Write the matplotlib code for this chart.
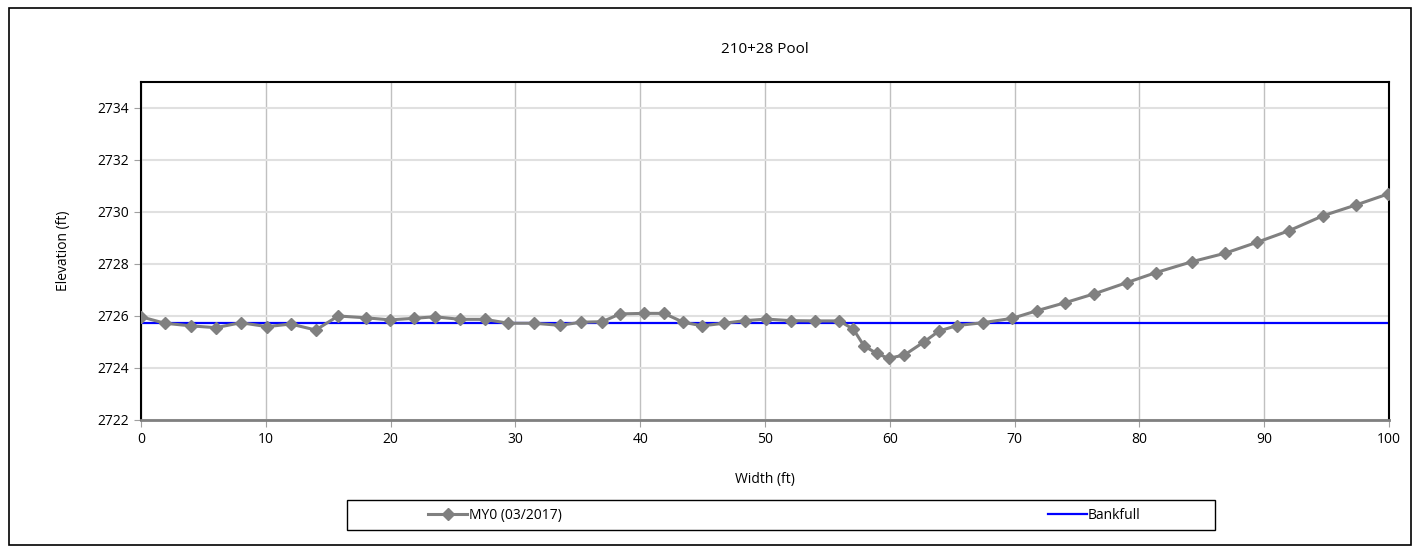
import matplotlib
matplotlib.use("Agg")
import matplotlib.pyplot as plt
from matplotlib.patches import Rectangle

plt.rcParams['font.family'] = ['Open Sans', 'DejaVu Sans']

width = [0, 1.9, 4.0, 6.0, 8.0, 10.1, 12.0, 14.0, 15.8, 18.0, 19.95, 21.9, 23.55,
         25.56, 27.56, 29.43, 31.5, 33.57, 35.26, 36.96, 38.38, 40.3, 41.9, 43.45,
         44.97, 46.7, 48.4, 50.1, 52.08, 54.0, 55.95, 57.08, 57.93, 58.95, 59.9,
         61.17, 62.7, 63.94, 65.36, 67.44, 69.82, 71.77, 74.04, 76.36, 78.97,
         81.33, 84.23, 86.84, 89.4, 91.99, 94.74, 97.36, 99.9]
elev = [2725.97, 2725.72, 2725.62, 2725.55, 2725.74, 2725.59, 2725.69, 2725.46,
        2726.0, 2725.93, 2725.85, 2725.91, 2725.97, 2725.87, 2725.87, 2725.72,
        2725.72, 2725.64, 2725.76, 2725.78, 2726.08, 2726.1, 2726.1, 2725.76,
        2725.62, 2725.72, 2725.82, 2725.88, 2725.82, 2725.81, 2725.81, 2725.49,
        2724.85, 2724.56, 2724.37, 2724.5, 2724.99, 2725.42, 2725.63, 2725.74,
        2725.91, 2726.2, 2726.51, 2726.85, 2727.28, 2727.67, 2728.09, 2728.41,
        2728.83, 2729.28, 2729.86, 2730.27, 2730.69]
bankfull_x = [0, 100]
bankfull_y = [2725.73, 2725.73]

fig = plt.figure(figsize=(14.2, 5.5), dpi=100)
# outer chart border
fig.patches.append(Rectangle((0.006, 0.01), 0.988, 0.975, transform=fig.transFigure,
                             fill=False, edgecolor='black', linewidth=1.2))
# legend box
fig.patches.append(Rectangle((0.2444, 0.036), 0.6115, 0.055, transform=fig.transFigure,
                             fill=False, edgecolor='black', linewidth=1))
ax = fig.add_axes([0.0993, 0.2364, 0.8789, 0.6146])

ax.plot(width, elev, color='#808080', linewidth=2.2, marker='D', markersize=6.5,
        label='MY0 (03/2017)', zorder=3)
ax.plot(bankfull_x, bankfull_y, color='#0000ff', linewidth=1.6, label='Bankfull', zorder=2)

ax.set_xlim(0, 100)
ax.set_ylim(2722, 2735)
ax.set_xticks(range(0, 101, 10))
ax.set_yticks(range(2722, 2735, 2))
ax.grid(axis='x', color='#c0c0c0', linewidth=1)
ax.grid(axis='y', color='#e0e0e0', linewidth=1.5)
ax.set_axisbelow(True)

for s in ['top', 'right', 'left']:
    ax.spines[s].set_color('black')
    ax.spines[s].set_linewidth(1.5)
ax.spines['bottom'].set_color('#808080')
ax.spines['bottom'].set_linewidth(2)
ax.tick_params(direction='out', length=5, color='#a0a0a0', labelsize=10)

ax.set_title('210+28 Pool', fontsize=11, pad=21)
ax.set_xlabel('Width (ft)', fontsize=10, labelpad=18)
ax.set_ylabel('Elevation (ft)', fontsize=10, labelpad=19)

leg = fig.legend(loc='center', bbox_to_anchor=(0.5525, 0.0635), ncol=2, frameon=False,
                 fontsize=10, handlelength=2.8, handletextpad=0.1, columnspacing=35,
                 borderaxespad=0)

fig.savefig('out.png', dpi=100)
